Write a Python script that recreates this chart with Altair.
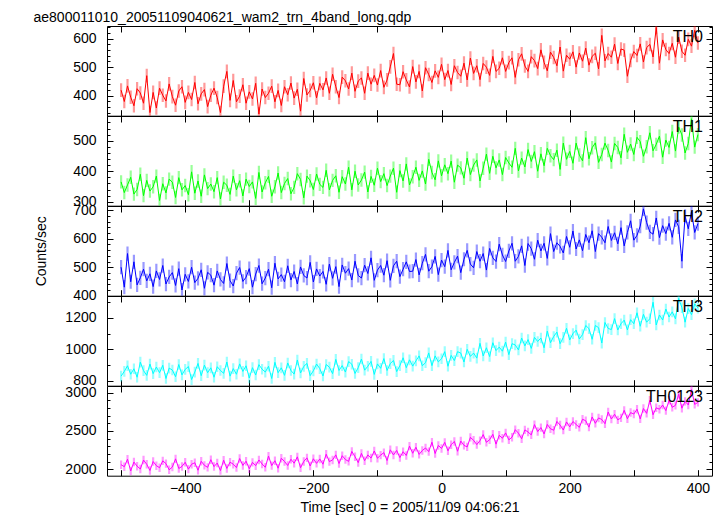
import altair as alt
import pandas as pd

TITLE = "ae800011010_20051109040621_wam2_trn_4band_long.qdp"
X_TITLE = "Time [sec] 0 = 2005/11/09 04:06:21"
Y_TITLE = "Counts/sec"

TIMES = list(range(-500, 401, 5))
PANELS = ["TH0", "TH1", "TH2", "TH3", "TH0123"]
COLORS = ["#ff0000", "#00ff00", "#0000ff", "#00ffff", "#ff00ff"]
ERRORS = [24, 22, 25, 34, 55]

TH0 = [419, 379, 434, 394, 364, 424, 409, 373, 470, 340,
       411, 356, 426, 401, 381, 441, 396, 366, 416, 431,
       376, 411, 386, 446, 371, 406, 421, 361, 401, 426,
       393, 340, 433, 485, 383, 453, 378, 398, 438, 373,
       413, 388, 443, 335, 423, 393, 408, 433, 378, 418,
       365, 431, 403, 444, 391, 422, 345, 460, 402, 418,
       445, 392, 443, 420, 462, 408, 475, 431, 393, 465,
       452, 423, 479, 415, 451, 462, 408, 479, 440, 471,
       437, 488, 429, 455, 501, 548, 440, 438, 484, 455,
       430, 502, 448, 485, 416, 498, 474, 446, 487, 464,
       510, 456, 488, 439, 505, 481, 468, 514, 455, 532,
       478, 505, 456, 513, 500, 471, 538, 485, 496, 533,
       485, 516, 533, 464, 526, 547, 504, 485, 537, 523,
       495, 561, 517, 487, 553, 534, 505, 571, 486, 542,
       528, 554, 500, 550, 521, 567, 507, 538, 549, 494,
       612, 522, 548, 535, 581, 513, 564, 560, 468, 524,
       555, 541, 582, 518, 569, 580, 536, 640, 514, 596,
       562, 548, 584, 535, 606, 556, 542, 598, 574, 630, 585]

TH1 = [365, 330, 355, 380, 325, 340, 390, 320, 370, 335,
       349, 384, 304, 359, 329, 374, 364, 314, 379, 339,
       353, 323, 398, 328, 368, 318, 388, 343, 358, 333,
       379, 309, 364, 354, 324, 384, 339, 369, 319, 374,
       350, 365, 311, 396, 332, 362, 383, 318, 349, 394,
       330, 360, 376, 326, 347, 392, 373, 313, 384, 369,
       340, 391, 357, 347, 403, 339, 370, 385, 331, 382,
       358, 413, 339, 400, 355, 371, 397, 332, 383, 354,
       410, 366, 392, 353, 384, 410, 331, 402, 368, 424,
       355, 382, 413, 370, 401, 358, 439, 396, 372, 434,
       385, 421, 392, 433, 364, 420, 411, 377, 443, 389,
       420, 437, 368, 410, 456, 393, 449, 411, 437, 389,
       445, 427, 413, 475, 401, 443, 414, 471, 432, 464,
       400, 457, 418, 475, 451, 438, 469, 406, 492, 439,
       465, 426, 492, 453, 434, 510, 441, 477, 493, 429,
       455, 492, 468, 430, 491, 478, 444, 521, 462, 489,
       455, 511, 497, 449, 480, 526, 467, 488, 515, 446,
       502, 478, 530, 466, 545, 519, 460, 491, 572, 479,
       520]

TH2 = [500, 430, 548, 449, 519, 438, 463, 493, 452, 477,
       432, 487, 457, 506, 441, 466, 481, 436, 495, 420,
       475, 450, 500, 446, 461, 491, 426, 482, 472, 437,
       487, 457, 443, 513, 453, 434, 479, 499, 450, 465,
       495, 430, 476, 506, 442, 462, 493, 428, 514, 459,
       474, 449, 505, 455, 485, 441, 501, 471, 462, 517,
       448, 494, 469, 485, 440, 511, 461, 502, 432, 508,
       479, 495, 455, 521, 471, 462, 507, 478, 533, 454,
       490, 506, 472, 523, 454, 505, 521, 467, 493, 519,
       485, 486, 527, 473, 514, 545, 486, 502, 538, 474,
       525, 502, 559, 491, 517, 539, 481, 528, 559, 511,
       498, 555, 521, 548, 490, 566, 533, 520, 581, 543,
       520, 557, 584, 521, 538, 575, 506, 583, 565, 528,
       595, 557, 584, 531, 618, 555, 586, 573, 550, 608,
       570, 627, 564, 596, 558, 615, 586, 628, 555, 618,
       605, 586, 643, 594, 621, 582, 639, 575, 622, 663,
       595, 612, 644, 705, 657, 624, 616, 673, 604, 646,
       618, 654, 605, 666, 642, 521, 679, 635, 696, 622,
       653]

TH3 = [829, 859, 895, 841, 876, 822, 918, 864, 834, 906,
       845, 887, 851, 898, 814, 880, 868, 825, 903, 837,
       872, 890, 807, 855, 910, 832, 899, 851, 882, 822,
       889, 865, 847, 919, 829, 877, 841, 907, 859, 895,
       817, 883, 836, 902, 873, 855, 892, 814, 917, 851,
       882, 834, 913, 865, 842, 932, 849, 891, 910, 832,
       863, 906, 877, 830, 903, 886, 845, 936, 865, 896,
       855, 922, 905, 846, 883, 938, 867, 892, 923, 840,
       907, 879, 941, 865, 909, 929, 858, 896, 946, 883,
       933, 893, 926, 958, 895, 915, 977, 896, 958, 920,
       940, 985, 892, 961, 928, 985, 976, 919, 1000, 955,
       976, 944, 1038, 958, 1010, 954, 1042, 992, 1014, 988,
       1046, 966, 1036, 1028, 996, 1072, 1022, 1062, 1006, 1076,
       1050, 1072, 1010, 1116, 1042, 1082, 1110, 1036, 1076, 1134,
       1060, 1100, 1122, 1066, 1094, 1152, 1132, 1064, 1152, 1138,
       1040, 1171, 1133, 1126, 1196, 1123, 1163, 1186, 1124, 1189,
       1163, 1233, 1147, 1223, 1173, 1195, 1300, 1155, 1219, 1187,
       1257, 1206, 1239, 1194, 1325, 1266, 1173, 1260, 1221, 1290,
       1263]

TH0123 = [2060, 2033, 2131, 1978, 2094, 2040, 2003, 2120, 2065, 1984,
          2101, 2047, 2020, 2110, 2074, 1993, 2029, 2136, 2010, 2037,
          2091, 2002, 2066, 2085, 1987, 2104, 2051, 2025, 2125, 2035,
          2081, 1983, 2118, 2011, 2093, 2066, 2022, 2140, 2050, 2105,
          2007, 2090, 2047, 2121, 2069, 2026, 2172, 2048, 2112, 2014,
          2144, 2101, 2049, 2131, 2079, 2162, 2020, 2102, 2149, 2043,
          2137, 2077, 2135, 2066, 2196, 2100, 2122, 2188, 2075, 2177,
          2127, 2103, 2233, 2164, 2087, 2207, 2112, 2187, 2146, 2239,
          2144, 2185, 2217, 2114, 2254, 2187, 2246, 2152, 2229, 2180,
          2302, 2209, 2287, 2194, 2245, 2278, 2230, 2353, 2206, 2311,
          2272, 2351, 2241, 2320, 2363, 2235, 2368, 2312, 2292, 2416,
          2378, 2322, 2374, 2453, 2352, 2386, 2456, 2328, 2443, 2405,
          2475, 2384, 2419, 2517, 2471, 2398, 2514, 2486, 2449, 2583,
          2492, 2544, 2461, 2585, 2529, 2509, 2624, 2577, 2512, 2618,
          2553, 2623, 2585, 2547, 2653, 2633, 2550, 2683, 2600, 2670,
          2650, 2595, 2747, 2656, 2718, 2645, 2671, 2769, 2660, 2740,
          2721, 2784, 2658, 2793, 2730, 2900, 2712, 2802, 2784, 2838,
          2766, 2900, 2809, 2835, 2980, 2797, 2886, 2840, 3040, 2847,
          2873]

VALUES = [TH0, TH1, TH2, TH3, TH0123]
Y_DOMAINS = [[329, 645], [287, 581], [400, 715], [768, 1340], [1916, 3087]]
Y_MAJOR = [[400, 500, 600], [300, 400, 500], [400, 500, 600, 700],
           [800, 1000, 1200], [2000, 2500, 3000]]
Y_MINOR_STEP = [20, 20, 20, 100, 100]
X_DOMAIN = [-522, 422]
X_TICKS = [-500, -400, -300, -200, -100, 0, 100, 200, 300, 400]
X_LABELS = [-400, -200, 0, 200, 400]

FONT = "Liberation Sans"
W, H = 605, 89.7


def tick_axis(orient, values, size):
    return alt.Axis(orient=orient, values=values, labels=False, domain=False,
                    grid=False, ticks=True, tickSize=size, offset=-size,
                    tickColor="black", tickWidth=1, title=None)


def panel(i):
    name = PANELS[i]
    col = COLORS[i]
    df = pd.DataFrame({"t": TIMES, "v": VALUES[i]})
    df["lo"] = df["v"] - ERRORS[i]
    df["hi"] = df["v"] + ERRORS[i]
    d0, d1 = Y_DOMAINS[i]
    step = Y_MINOR_STEP[i]
    start = -(-d0 // step) * step
    minors = list(range(start, d1 + 1, step))
    majors = Y_MAJOR[i]
    xs = alt.Scale(domain=X_DOMAIN, nice=False, zero=False)
    ys = alt.Scale(domain=Y_DOMAINS[i], nice=False, zero=False)
    last = i == len(PANELS) - 1

    ykw = dict(orient="left", values=majors, format="d", ticks=False, tickSize=0,
               domain=False, grid=False, labelPadding=11, labelFontSize=14,
               labelFont=FONT, labelColor="black")
    if i == 2:
        ykw.update(title=Y_TITLE, titleX=-59, titleY=H / 2, titleAngle=-90,
                   titleAlign="center", titleBaseline="bottom", titleFontSize=14,
                   titleFont=FONT, titleFontWeight="normal", titleColor="black")
    else:
        ykw.update(title=None)
    ylab = alt.Axis(**ykw)

    if last:
        xlab = alt.Axis(orient="bottom", values=X_LABELS, format="d", ticks=False,
                        tickSize=0, domain=False, grid=False, labelPadding=6,
                        labelFlush=False, labelFontSize=14, labelFont=FONT,
                        labelColor="black", title=X_TITLE, titlePadding=5,
                        titleFontSize=14, titleFont=FONT, titleFontWeight="normal",
                        titleColor="black")
    else:
        xlab = None

    base = alt.Chart(df)
    errs = base.mark_rule(color=col, opacity=0.4, strokeWidth=2.2, clip=True).encode(
        x=alt.X("t:Q", scale=xs, axis=xlab),
        y=alt.Y("lo:Q", scale=ys, axis=ylab),
        y2="hi:Q",
    )
    line = base.mark_line(color=col, strokeWidth=1, clip=True).encode(
        x=alt.X("t:Q", scale=xs, axis=tick_axis("bottom", X_TICKS, 6)),
        y=alt.Y("v:Q", scale=ys, axis=tick_axis("left", majors, 6)),
    )
    c_layer = base.mark_point(opacity=0, clip=True).encode(
        x=alt.X("t:Q", scale=xs, axis=tick_axis("top", X_TICKS, 6)),
        y=alt.Y("v:Q", scale=ys, axis=tick_axis("left", minors, 3)),
    )
    d_layer = base.mark_point(opacity=0, clip=True).encode(
        x=alt.X("t:Q", scale=xs, axis=None),
        y=alt.Y("v:Q", scale=ys, axis=tick_axis("right", majors, 6)),
    )
    e_layer = base.mark_point(opacity=0, clip=True).encode(
        x=alt.X("t:Q", scale=xs, axis=None),
        y=alt.Y("v:Q", scale=ys, axis=tick_axis("right", minors, 3)),
    )
    label = alt.Chart(pd.DataFrame({"label": [name]})).mark_text(
        align="right", baseline="top", fontSize=16, font=FONT, color="black"
    ).encode(text="label:N", x=alt.value(W - 9), y=alt.value(3))

    return alt.layer(errs, line, c_layer, d_layer, e_layer, label).resolve_axis(
        x="independent", y="independent").properties(width=W, height=H)


chart = alt.vconcat(
    *[panel(i) for i in range(len(PANELS))],
    spacing=0,
    bounds="flush",
    title=alt.TitleParams(TITLE, anchor="start", fontSize=14, fontWeight="normal",
                          font=FONT, color="black", offset=0),
    padding={"left": 25, "top": 3, "right": 2, "bottom": 0},
    background="white",
).configure_view(stroke="black", strokeWidth=1)

chart.save("out.html", embed_options={"renderer": "svg", "actions": False})
